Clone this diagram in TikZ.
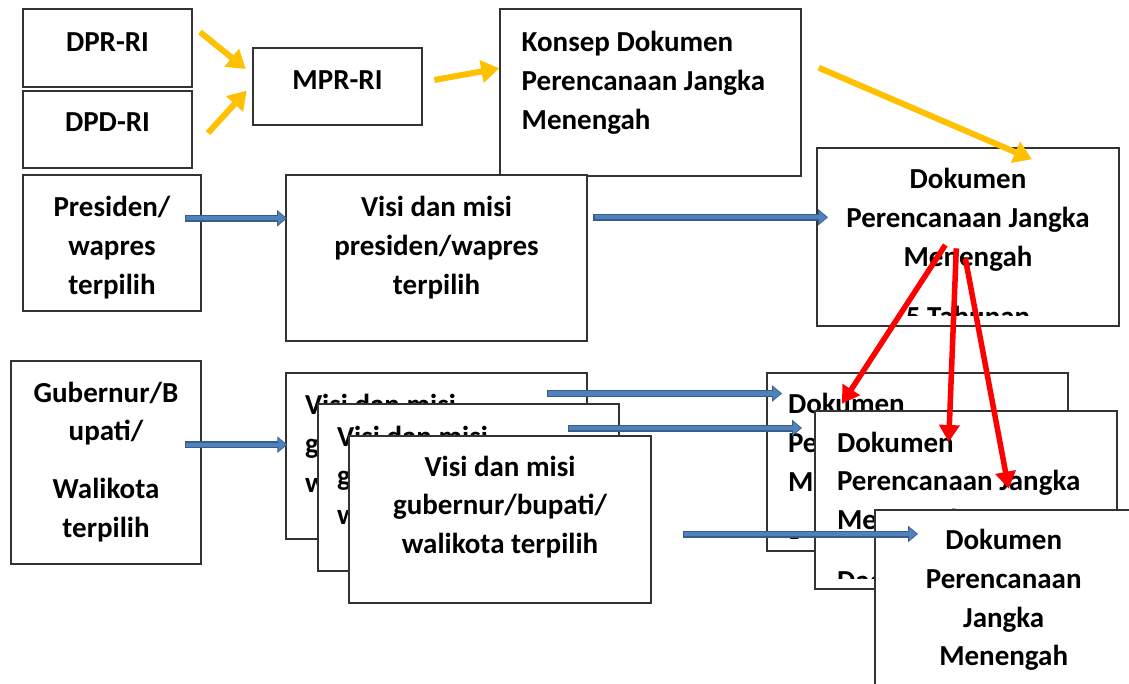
\documentclass[tikz,border=0pt]{standalone}
\usepackage{fontspec}
\setmainfont{Carlito}
\usetikzlibrary{arrows.meta}
\definecolor{yel}{HTML}{FFC000}
\definecolor{bluF}{HTML}{4F81BD}
\definecolor{bluD}{HTML}{385D8A}
\definecolor{redA}{HTML}{FF0000}
\newcommand\bluearrow[2]{%
  \draw[draw=bluD, line width=7pt, -{Triangle[length=10pt,width=16pt]}] (#1) -- (#2);
  \draw[draw=bluF, line width=4.2pt, shorten <=1.3pt, shorten >=1.4pt, -{Triangle[length=7.6pt,width=12.4pt]}] (#1) -- (#2);}
\begin{document}
\begin{tikzpicture}[x=1pt,y=-1pt,
  box/.style={draw=black!80, line width=1.3pt, fill=white, inner sep=0pt, outer sep=0pt, anchor=north west},
  txt/.style={font=\bfseries\fontsize{29}{38.8}\selectfont, inner sep=0pt, outer sep=0pt, yshift=-3.5pt},
  ctxt/.style={txt, align=center, anchor=north},
  ltxt/.style={txt, align=left, anchor=north west},
  yarrow/.style={draw=yel, line width=6pt, -{Triangle[length=18pt,width=22pt]}},
  rarrow/.style={draw=redA, line width=5.5pt, -{Triangle[length=17pt,width=20pt]}}]
\useasboundingbox (0,0) rectangle (1129,684);
\fill[white] (0,0) rectangle (1129,684);
% top boxes
\node[box, minimum width=169, minimum height=78] (dpr) at (23,9) {};
\node[ctxt] (tdpr) at (107.5,21.1) {\strut DPR-RI};
\node[box, minimum width=169, minimum height=77] (dpd) at (23,91) {};
\node[ctxt] (tdpd) at (107.5,101.1) {\strut DPD-RI};
\node[box, minimum width=169, minimum height=77] (mpr) at (253,48) {};
\node[ctxt] (tmpr) at (337.5,58.8) {\strut MPR-RI};
\node[box, minimum width=301, minimum height=167] (konsep) at (500,9) {};
\node[ltxt] (tkonsep) at (521.7,21.1) {\strut Konsep Dokumen\\Perencanaan Jangka\\Menengah};
\node[box, minimum width=178, minimum height=136] (pres) at (23,175) {};
\node[ctxt] (tpres) at (112,185.8) {\strut Presiden/\\wapres\\terpilih};
\node[box, minimum width=301, minimum height=166] (vpres) at (286,175) {};
\node[ctxt] (tvpres) at (436.5,185.8) {\strut Visi dan misi\\presiden/wapres\\terpilih};
\node[box, minimum width=302, minimum height=178] (dok) at (817,148) {};
\begin{scope}
\clip (817,148) rectangle (1119,316);
\node[ctxt] (tdok) at (968,157.8) {\strut Dokumen\\Perencanaan Jangka\\Menengah\\[22pt]5 Tahunan};
\end{scope}
% lower boxes
\node[box, minimum width=190, minimum height=203] (gub) at (11,361) {};
\node[ctxt] (tgub) at (106,371.5) {\strut Gubernur/B\\upati/\\[19pt]Walikota\\terpilih};
\node[box, minimum width=301, minimum height=166] (vg1) at (286,373) {};
\node[ltxt] (tvg1) at (305,383.8) {\strut Visi dan misi\\gubernur/bupati/\\walikota terpilih};
\node[box, minimum width=301, minimum height=167] (vg2) at (318,404) {};
\node[ltxt] (tvg2) at (337,415.8) {\strut Visi dan misi\\gubernur/bupati/\\walikota terpilih};
\node[box, minimum width=302, minimum height=167] (vg3) at (349,436) {};
\node[ctxt] (tvg3) at (500,445.5) {\strut Visi dan misi\\gubernur/bupati/\\walikota terpilih};
\node[box, minimum width=301, minimum height=178] (dok1) at (767,373) {};
\begin{scope}
\clip (767,373) rectangle (1068,538);
\node[ltxt] (tdok1) at (788,383.1) {\strut Dokumen\\Perencanaan Jangka\\Menengah\\[20pt]5 Tahunan};
\end{scope}
\node[box, minimum width=302, minimum height=178] (dok2) at (815,411) {};
\begin{scope}
\clip (815,411) rectangle (1117,578);
\node[ltxt] (tdok2) at (837,421.5) {\strut Dokumen\\Perencanaan Jangka\\Menengah\\[22pt]Daerah};
\end{scope}
\node[box, minimum width=300, minimum height=220] (dok3) at (875,510) {};
\node[ctxt] (tdok3) at (1003.7,518.8) {\strut Dokumen\\Perencanaan\\Jangka\\Menengah};
% connector end points
\coordinate (ya1) at (200,32);   \coordinate (yb1) at (245.7,69);
\coordinate (ya2) at (208,133);  \coordinate (yb2) at (246.7,90.7);
\coordinate (ya3) at (434.3,80); \coordinate (yb3) at (499.3,68.3);
\coordinate (ya4) at (818.7,67.7); \coordinate (yb4) at (1032,159.3);
\coordinate (ba1) at (185,218.3);  \coordinate (bb1) at (287,218.3);
\coordinate (ba2) at (593.3,217.3); \coordinate (bb2) at (828,217.3);
\coordinate (ba3) at (185,444.7);  \coordinate (bb3) at (287.3,444.7);
\coordinate (ba4) at (546.7,393.5); \coordinate (bb4) at (782,393.5);
\coordinate (ba5) at (567.7,428);  \coordinate (bb5) at (802,428);
\coordinate (ba6) at (682.7,534);  \coordinate (bb6) at (918,534);
\coordinate (ra1) at (945.3,245);  \coordinate (rb1) at (842,403.7);
\coordinate (ra2) at (956.3,248.3); \coordinate (rb2) at (948.7,442);
\coordinate (ra3) at (965.3,258.3); \coordinate (rb3) at (1008.7,488.7);
% yellow
\draw[yarrow] (ya1) -- (yb1);
\draw[yarrow] (ya2) -- (yb2);
\draw[yarrow] (ya3) -- (yb3);
\draw[yarrow] (ya4) -- (yb4);
% blue
\bluearrow{ba1}{bb1}
\bluearrow{ba2}{bb2}
\bluearrow{ba3}{bb3}
\bluearrow{ba4}{bb4}
\bluearrow{ba5}{bb5}
\bluearrow{ba6}{bb6}
% red
\draw[rarrow] (ra1) -- (rb1);
\draw[rarrow] (ra2) -- (rb2);
\draw[rarrow] (ra3) -- (rb3);
\end{tikzpicture}
\end{document}
